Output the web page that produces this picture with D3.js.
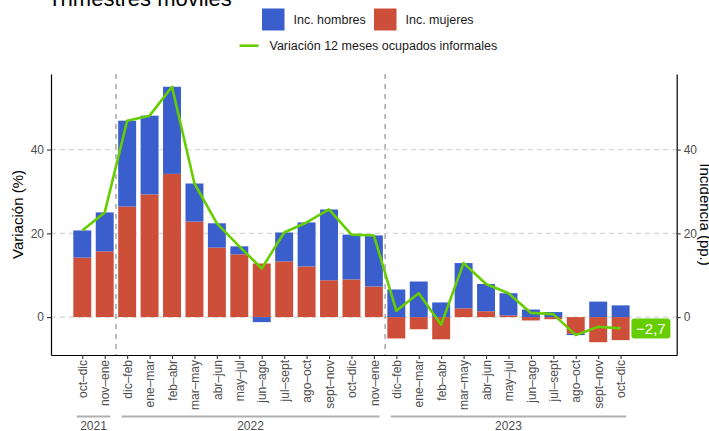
<!DOCTYPE html>
<html>
<head>
<meta charset="utf-8">
<script src="https://cdn.jsdelivr.net/npm/d3@7"></script>
<style>
  body { margin: 0; background: #fff; }
  svg { display: block; font-family: "Liberation Sans", Arial, sans-serif; }
</style>
</head>
<body>
<div id="chart"></div>
<script>
// rolling quarters
var periods = ["oct–dic","nov–ene","dic–feb","ene–mar","feb–abr","mar–may","abr–jun","may–jul","jun–ago","jul–sept","ago–oct","sept–nov","oct–dic","nov–ene",
               "dic–feb","ene–mar","feb–abr","mar–may","abr–jun","may–jul","jun–ago","jul–sept","ago–oct","sept–nov","oct–dic"];
var years = [
  {year: "2021", first: 0, last: 1},
  {year: "2022", first: 2, last: 13},
  {year: "2023", first: 14, last: 24}
];
var incMujeres = [14.2, 15.7, 26.4, 29.3, 34.2, 22.8, 16.6, 15.0, 12.8, 13.3, 12.1, 8.8, 9.0, 7.3,
                  -5.1, -2.9, -5.3, 2.1, 1.4, 0.4, -0.8, -0.5, -4.0, -6.0, -5.5];
var incHombres = [6.5, 9.3, 20.5, 18.8, 20.8, 9.1, 5.8, 1.9, -1.2, 6.9, 10.5, 16.9, 10.7, 12.2,
                  6.6, 8.5, 3.5, 10.8, 6.5, 5.3, 1.8, 1.2, -0.3, 3.7, 2.8];
var variacion = [20.7, 25.0, 46.9, 48.1, 55.0, 31.9, 22.4, 16.9, 11.6, 20.2, 22.6, 25.7, 19.7, 19.5,
                 1.5, 5.7, -1.8, 12.9, 7.9, 5.7, 1.0, 0.7, -4.3, -2.3, -2.7];
var yTicks = [0, 20, 40];
var lastLabel = "−2,7";

var W = 709, H = 431;
var col = {hombres: "#3A5FCD", mujeres: "#CD4F39", linea: "#66CD00"};
var margin = {top: 74, right: 32.3, bottom: 76, left: 51};

var svg = d3.select("#chart").append("svg").attr("width", W).attr("height", H);

var x = d3.scaleLinear().domain([-1.395, 26.5]).range([margin.left, W - margin.right]);
var y = d3.scaleLinear().domain([-9.05, 58.05]).range([H - margin.bottom, margin.top]);
var step = x(1) - x(0), bw = step * 0.8;

// title (cut at top)
svg.append("text").attr("x", 48).attr("y", 6).attr("font-size", 22).attr("fill", "#000").text("Trimestres móviles");

// legend
var leg = svg.append("g");
[["Inc. hombres", col.hombres, 262], ["Inc. mujeres", col.mujeres, 374]].forEach(function(d) {
  leg.append("rect").attr("x", d[2]).attr("y", 8.5).attr("width", 22.5).attr("height", 22).attr("fill", d[1]);
  leg.append("text").attr("x", d[2] + 31.5).attr("y", 20).attr("dy", "0.35em").attr("font-size", 12.5).attr("fill", "#1a1a1a").text(d[0]);
});
leg.append("line").attr("x1", 239.5).attr("x2", 258.5).attr("y1", 45.7).attr("y2", 45.7)
   .attr("stroke", col.linea).attr("stroke-width", 2.6);
leg.append("text").attr("x", 269.5).attr("y", 46).attr("dy", "0.35em").attr("font-size", 12.5).attr("fill", "#1a1a1a")
   .text("Variación 12 meses ocupados informales");

// horizontal grid
svg.append("g").selectAll("line").data(yTicks).join("line")
  .attr("x1", x.range()[0]).attr("x2", x.range()[1])
  .attr("y1", function(d) { return y(d); }).attr("y2", function(d) { return y(d); })
  .attr("stroke", "#d6d6d6").attr("stroke-width", 1.1).attr("stroke-dasharray", "5,4");

// year separators
svg.append("g").selectAll("line").data(years.slice(1)).join("line")
  .attr("x1", function(d) { return x(d.first - 0.5); }).attr("x2", function(d) { return x(d.first - 0.5); })
  .attr("y1", y.range()[1]).attr("y2", y.range()[0])
  .attr("stroke", "#9a9a9a").attr("stroke-width", 1.3).attr("stroke-dasharray", "5,5");

// stacked bars: mujeres next to zero, hombres outside
var segs = [];
periods.forEach(function(p, i) {
  var pos = 0, neg = 0;
  [["mujeres", incMujeres[i]], ["hombres", incHombres[i]]].forEach(function(s) {
    var v = s[1], y0, y1;
    if (v >= 0) { y0 = pos; y1 = pos + v; pos = y1; } else { y0 = neg; y1 = neg + v; neg = y1; }
    segs.push({i: i, key: s[0], y0: y0, y1: y1});
  });
});
svg.append("g").selectAll("rect").data(segs).join("rect")
  .attr("x", function(d) { return x(d.i) - bw / 2; })
  .attr("width", bw)
  .attr("y", function(d) { return y(Math.max(d.y0, d.y1)); })
  .attr("height", function(d) { return Math.abs(y(d.y0) - y(d.y1)); })
  .attr("fill", function(d) { return col[d.key]; });

// variation line
var line = d3.line().x(function(d, i) { return x(i); }).y(function(d) { return y(d); });
svg.append("path").datum(variacion).attr("d", line)
  .attr("fill", "none").attr("stroke", col.linea).attr("stroke-width", 2.6).attr("stroke-linejoin", "round");

// last value label
var lx = x(25.35), ly = y(variacion[variacion.length - 1]);
svg.append("rect").attr("x", lx - 19.5).attr("y", ly - 10).attr("width", 39).attr("height", 20)
  .attr("rx", 3).attr("fill", col.linea);
svg.append("text").attr("x", lx).attr("y", ly).attr("dy", "0.36em").attr("text-anchor", "middle")
  .attr("font-size", 15).attr("fill", "#fff").text(lastLabel);

// axes
function styleAxis(g) {
  g.select(".domain").attr("stroke", "#000").attr("stroke-width", 1.2);
  g.selectAll(".tick line").attr("stroke", "#333").attr("stroke-width", 1.1);
  g.selectAll(".tick text").attr("fill", "#4d4d4d").attr("font-size", 12).attr("font-family", "Liberation Sans, Arial, sans-serif");
}
svg.append("g").attr("transform", "translate(" + x.range()[0] + ",0)")
  .call(d3.axisLeft(y).tickValues(yTicks).tickSize(4).tickSizeOuter(0).tickPadding(3))
  .call(styleAxis);
svg.append("g").attr("transform", "translate(" + x.range()[1] + ",0)")
  .call(d3.axisRight(y).tickValues(yTicks).tickSize(4).tickSizeOuter(0).tickPadding(3))
  .call(styleAxis);
var xa = svg.append("g").attr("transform", "translate(0," + y.range()[0] + ")")
  .call(d3.axisBottom(x).tickValues(d3.range(periods.length)).tickFormat(function(i) { return periods[i]; })
        .tickSize(4).tickSizeOuter(0))
  .call(styleAxis);
xa.selectAll(".tick text")
  .attr("transform", "rotate(-90)").attr("text-anchor", "end")
  .attr("x", -5).attr("y", 0).attr("dy", "0.35em");

// year groups
var yg = svg.append("g");
years.forEach(function(d) {
  yg.append("line").attr("x1", x(d.first - 0.25)).attr("x2", x(d.last + 0.25))
    .attr("y1", 416.5).attr("y2", 416.5).attr("stroke", "#b0b0b0").attr("stroke-width", 2);
  yg.append("text").attr("x", (x(d.first) + x(d.last)) / 2).attr("y", 429.5).attr("text-anchor", "middle")
    .attr("font-size", 12).attr("fill", "#4d4d4d").text(d.year);
});

// axis titles
var cy = (y.range()[0] + y.range()[1]) / 2;
svg.append("text").attr("transform", "translate(23," + cy + ") rotate(-90)").attr("text-anchor", "middle")
  .attr("font-size", 15).attr("fill", "#000").text("Variación (%)");
svg.append("text").attr("transform", "translate(700," + cy + ") rotate(90)").attr("text-anchor", "middle")
  .attr("font-size", 15).attr("fill", "#000").text("Incidencia (pp.)");
</script>
</body>
</html>
